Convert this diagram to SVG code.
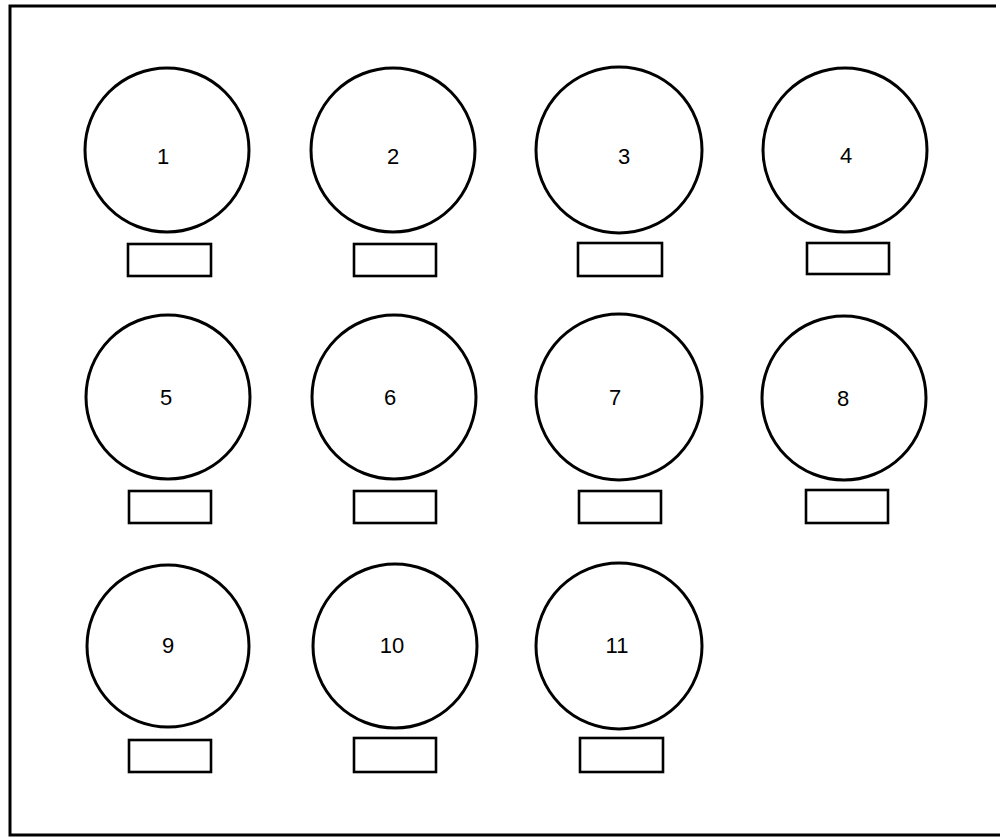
<svg xmlns="http://www.w3.org/2000/svg" width="1000" height="838" viewBox="0 0 1000 838">
<style>
.c{fill:none;stroke:#000;stroke-width:3}
.r{fill:none;stroke:#000;stroke-width:2.6}
.t{font-family:"Liberation Sans",Arial,sans-serif;font-size:22px;fill:#000;text-anchor:middle;dominant-baseline:central}
.f{fill:none;stroke:#000;stroke-width:3}
</style>
<rect width="1000" height="838" fill="#fff"/>
<path class="f" d="M996,6 H10 V835 H1000"/>
<g id="connectors"/>
<g id="n1"><circle class="c" cx="167" cy="150" r="82"/><rect class="r" x="128" y="244" width="83" height="32"/><text class="t" x="163" y="156">1</text></g>
<g id="n2"><circle class="c" cx="393" cy="150" r="82"/><rect class="r" x="354" y="244" width="82" height="32"/><text class="t" x="393" y="156">2</text></g>
<g id="n3"><circle class="c" cx="619" cy="150" r="83"/><rect class="r" x="578" y="243" width="84" height="33"/><text class="t" x="624" y="156">3</text></g>
<g id="n4"><circle class="c" cx="845" cy="150" r="82"/><rect class="r" x="807" y="243" width="82" height="31"/><text class="t" x="846" y="155">4</text></g>
<g id="n5"><circle class="c" cx="168" cy="397" r="82"/><rect class="r" x="129" y="491" width="82" height="32"/><text class="t" x="166" y="397">5</text></g>
<g id="n6"><circle class="c" cx="394" cy="397" r="82"/><rect class="r" x="354" y="491" width="82" height="32"/><text class="t" x="390" y="397">6</text></g>
<g id="n7"><circle class="c" cx="619" cy="397" r="83"/><rect class="r" x="579" y="491" width="82" height="32"/><text class="t" x="615" y="397">7</text></g>
<g id="n8"><circle class="c" cx="844" cy="398" r="82"/><rect class="r" x="806" y="490" width="82" height="33"/><text class="t" x="843" y="398">8</text></g>
<g id="n9"><circle class="c" cx="168" cy="646" r="81"/><rect class="r" x="129" y="740" width="82" height="32"/><text class="t" x="168" y="645">9</text></g>
<g id="n10"><circle class="c" cx="395" cy="646" r="82"/><rect class="r" x="354" y="738" width="82" height="34"/><text class="t" x="392" y="645">10</text></g>
<g id="n11"><circle class="c" cx="619" cy="646" r="83"/><rect class="r" x="580" y="738" width="83" height="34"/><text class="t" x="617" y="645">11</text></g>
</svg>
